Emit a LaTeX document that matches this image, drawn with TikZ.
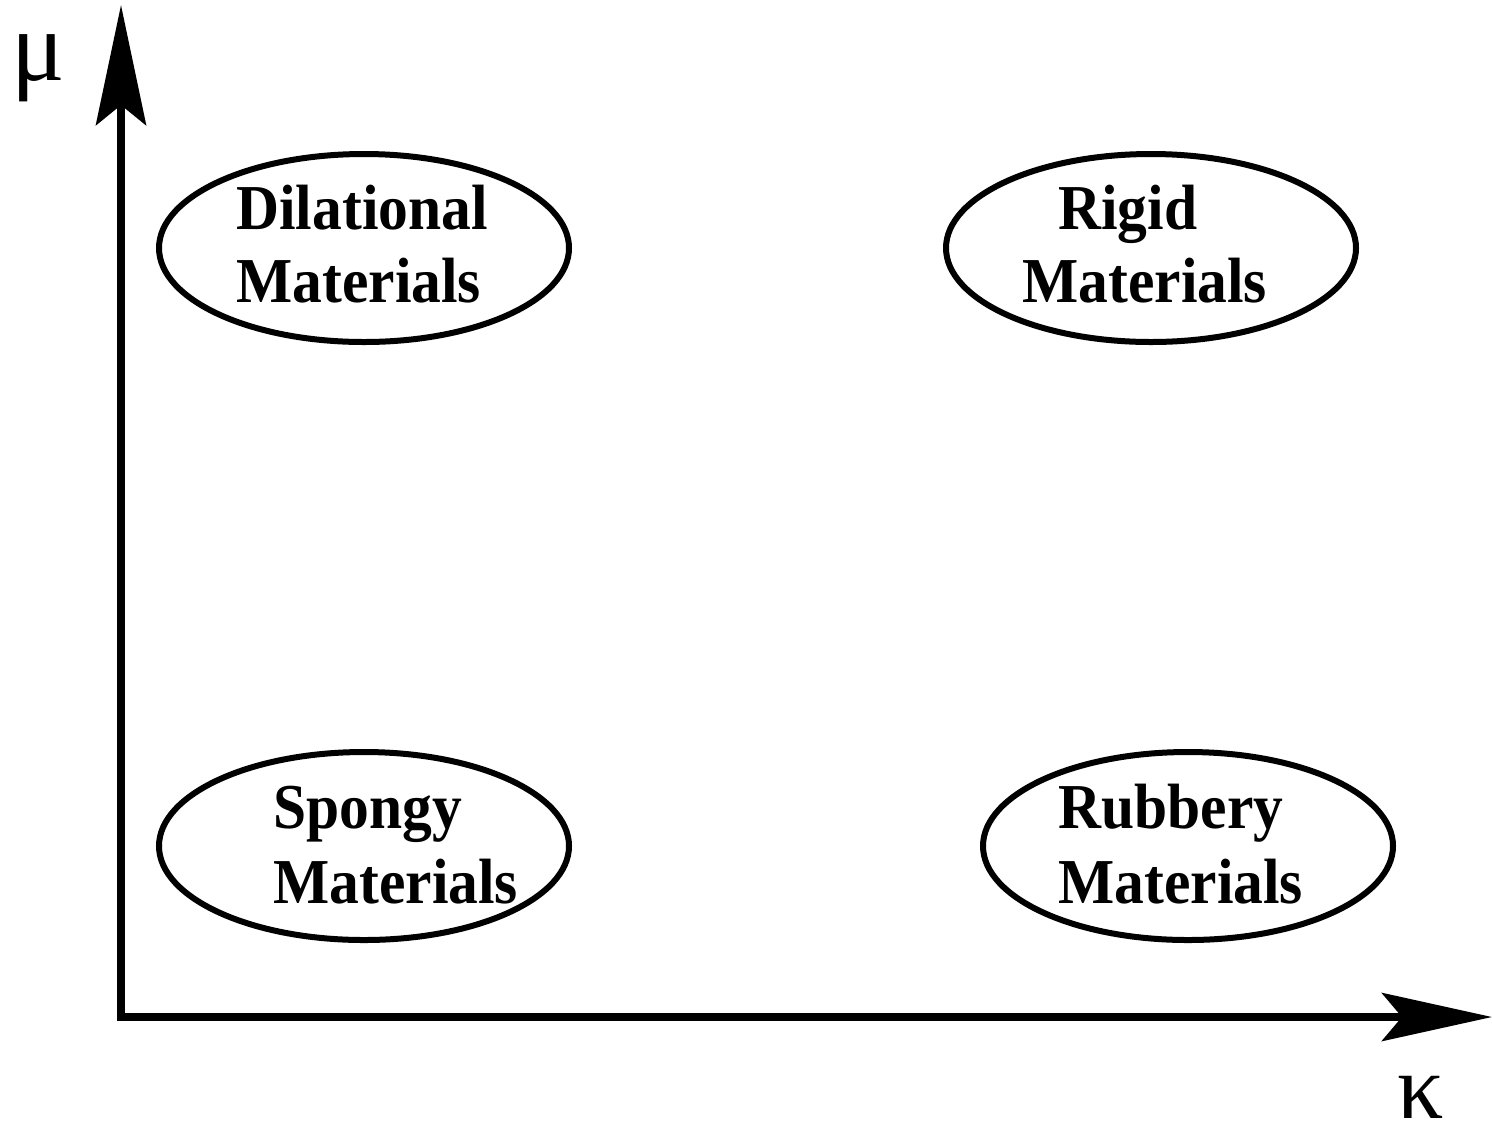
\documentclass[tikz,border=0pt]{standalone}
\usepackage{fontspec}
\setmainfont{Liberation Serif}
\newfontfamily\lblfont[FakeStretch=0.93]{Liberation Serif}
\usetikzlibrary{arrows.meta,shapes.geometric}
\begin{document}
\begin{tikzpicture}[x=0.5pt,y=-0.5pt,
  axis/.style={line width=4pt,line join=miter},
  region/.style={draw,line width=3pt,ellipse,minimum width=205pt,minimum height=94pt,inner sep=0pt},
  lbl/.style={anchor=base west,inner sep=0pt,font=\lblfont\fontsize{32}{36}\selectfont\bfseries},
  sym/.style={anchor=base,inner sep=0pt,font=\fontsize{50}{50}\selectfont}]
\useasboundingbox (0,0) rectangle (1492,1131);
\coordinate (o) at (121,1017);
\coordinate (ytip) at (121,5);
\coordinate (xtip) at (1492,1017);
\draw[axis,{Stealth[length=60pt,width=25pt,inset=10pt]}-{Stealth[length=55pt,width=24pt,inset=10pt]}] (ytip) -- (o) -- (xtip);
\node[sym] (mu) at (38,80) {μ};
\node[sym,font=\fontsize{46}{46}\selectfont,text depth=0pt] (kappa) at (1421,1118) {κ};
\node[region] (dil) at (364,248) {};
\node[region] (rig) at (1151,248) {};
\node[region] (spo) at (364,846) {};
\node[region] (rub) at (1188,846) {};
\node[lbl] (dil1) at (236,229) {Dilational};
\node[lbl] (dil2) at (236,302) {Materials};
\node[lbl] (rig1) at (1058,229) {Rigid};
\node[lbl] (rig2) at (1022,302) {Materials};
\node[lbl] (spo1) at (273,828) {Spongy};
\node[lbl] (spo2) at (273,903) {Materials};
\node[lbl] (rub1) at (1058,828) {Rubbery};
\node[lbl] (rub2) at (1058,903) {Materials};
\end{tikzpicture}
\end{document}
